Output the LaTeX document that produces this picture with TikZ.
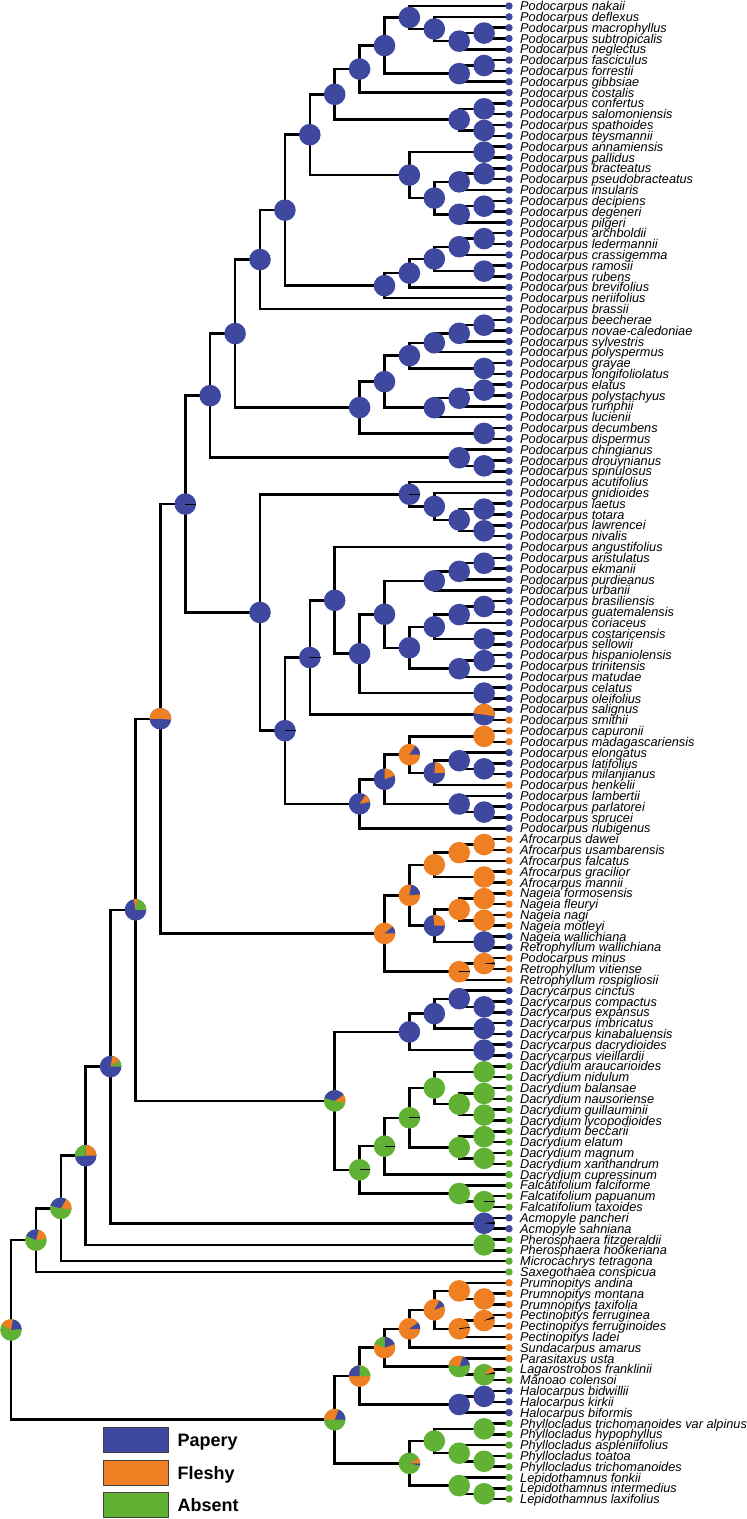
\documentclass[tikz,border=0pt]{standalone}
\usepackage{fontspec}
\setmainfont{Liberation Sans}
\usetikzlibrary{calc,positioning}
\pgfdeclarelayer{edges}
\pgfsetlayers{edges,main}

\definecolor{papery}{RGB}{62,72,158}
\definecolor{fleshy}{RGB}{238,127,34}
\definecolor{absent}{RGB}{97,178,52}

\newcommand{\pier}{10.8}
% internal node: name, height above the tips, two children, pie colour
\newcommand{\clade}[5]{%
  \coordinate (#1-mid) at ($(#3)!0.5!(#4)$);
  \coordinate (#1) at ({509-24.9*#2},0 |- #1-mid);
  \begin{pgfonlayer}{edges}
    \draw[branch] (#3) -| (#1) |- (#4);
  \end{pgfonlayer}
  \fill[#5] (#1) circle (\pier);
}
% part of a pie: node, start angle, end angle, colour
\newcommand{\slice}[4]{\fill[#4] (#1) -- +(#2:\pier) arc[start angle=#2, end angle=#3, radius=\pier] -- cycle;}
\newcommand{\tick}[2]{\draw[line width=0.8pt] (#1) -- +(#2:\pier);}

\begin{document}
\begin{tikzpicture}[
    x=1pt, y=1pt,
    branch/.style={line width=2.5pt, draw=black},
    tiplabel/.style={anchor=west, inner sep=0pt, text height=9.2pt, text depth=0pt,
                     font=\fontsize{12.75}{13}\selectfont\itshape},
    keybox/.style={draw=black!75, line width=0.9pt, minimum width=65pt, minimum height=25pt, inner sep=0pt},
    keytext/.style={inner sep=0pt, text height=13pt, text depth=0pt,
                    font=\fontsize{18}{20}\selectfont\bfseries}
]
    \useasboundingbox (0,0) rectangle (747,-1519);

    % Tips
    \foreach \i/\sp/\col in {
      1/Podocarpus nakaii/papery, 2/Podocarpus deflexus/papery, 3/Podocarpus macrophyllus/papery,
      4/Podocarpus subtropicalis/papery, 5/Podocarpus neglectus/papery, 6/Podocarpus fasciculus/papery,
      7/Podocarpus forrestii/papery, 8/Podocarpus gibbsiae/papery, 9/Podocarpus costalis/papery,
      10/Podocarpus confertus/papery, 11/Podocarpus salomoniensis/papery, 12/Podocarpus spathoides/papery,
      13/Podocarpus teysmannii/papery, 14/Podocarpus annamiensis/papery, 15/Podocarpus pallidus/papery,
      16/Podocarpus bracteatus/papery, 17/Podocarpus pseudobracteatus/papery, 18/Podocarpus insularis/papery,
      19/Podocarpus decipiens/papery, 20/Podocarpus degeneri/papery, 21/Podocarpus pilgeri/papery,
      22/Podocarpus archboldii/papery, 23/Podocarpus ledermannii/papery, 24/Podocarpus crassigemma/papery,
      25/Podocarpus ramosii/papery, 26/Podocarpus rubens/papery, 27/Podocarpus brevifolius/papery,
      28/Podocarpus neriifolius/papery, 29/Podocarpus brassii/papery, 30/Podocarpus beecherae/papery,
      31/Podocarpus novae-caledoniae/papery, 32/Podocarpus sylvestris/papery, 33/Podocarpus polyspermus/papery,
      34/Podocarpus grayae/papery, 35/Podocarpus longifoliolatus/papery, 36/Podocarpus elatus/papery,
      37/Podocarpus polystachyus/papery, 38/Podocarpus rumphii/papery, 39/Podocarpus lucienii/papery,
      40/Podocarpus decumbens/papery, 41/Podocarpus dispermus/papery, 42/Podocarpus chingianus/papery,
      43/Podocarpus drouynianus/papery, 44/Podocarpus spinulosus/papery, 45/Podocarpus acutifolius/papery,
      46/Podocarpus gnidioides/papery, 47/Podocarpus laetus/papery, 48/Podocarpus totara/papery,
      49/Podocarpus lawrencei/papery, 50/Podocarpus nivalis/papery, 51/Podocarpus angustifolius/papery,
      52/Podocarpus aristulatus/papery, 53/Podocarpus ekmanii/papery, 54/Podocarpus purdieanus/papery,
      55/Podocarpus urbanii/papery, 56/Podocarpus brasiliensis/papery, 57/Podocarpus guatemalensis/papery,
      58/Podocarpus coriaceus/papery, 59/Podocarpus costaricensis/papery, 60/Podocarpus sellowii/papery,
      61/Podocarpus hispaniolensis/papery, 62/Podocarpus trinitensis/papery, 63/Podocarpus matudae/papery,
      64/Podocarpus celatus/papery, 65/Podocarpus oleifolius/papery, 66/Podocarpus salignus/papery,
      67/Podocarpus smithii/fleshy, 68/Podocarpus capuronii/fleshy, 69/Podocarpus madagascariensis/fleshy,
      70/Podocarpus elongatus/papery, 71/Podocarpus latifolius/papery, 72/Podocarpus milanjianus/papery,
      73/Podocarpus henkelii/fleshy, 74/Podocarpus lambertii/papery, 75/Podocarpus parlatorei/papery,
      76/Podocarpus sprucei/papery, 77/Podocarpus nubigenus/papery, 78/Afrocarpus dawei/fleshy,
      79/Afrocarpus usambarensis/fleshy, 80/Afrocarpus falcatus/fleshy, 81/Afrocarpus gracilior/fleshy,
      82/Afrocarpus mannii/fleshy, 83/Nageia formosensis/fleshy, 84/Nageia fleuryi/fleshy,
      85/Nageia nagi/fleshy, 86/Nageia motleyi/fleshy, 87/Nageia wallichiana/papery,
      88/Retrophyllum wallichiana/papery, 89/Podocarpus minus/fleshy, 90/Retrophyllum vitiense/fleshy,
      91/Retrophyllum rospigliosii/fleshy, 92/Dacrycarpus cinctus/papery, 93/Dacrycarpus compactus/papery,
      94/Dacrycarpus expansus/papery, 95/Dacrycarpus imbricatus/papery, 96/Dacrycarpus kinabaluensis/papery,
      97/Dacrycarpus dacrydioides/papery, 98/Dacrycarpus vieillardii/papery, 99/Dacrydium araucarioides/absent,
      100/Dacrydium nidulum/absent, 101/Dacrydium balansae/absent, 102/Dacrydium nausoriense/absent,
      103/Dacrydium guillauminii/absent, 104/Dacrydium lycopodioides/absent, 105/Dacrydium beccarii/absent,
      106/Dacrydium elatum/absent, 107/Dacrydium magnum/absent, 108/Dacrydium xanthandrum/absent,
      109/Dacrydium cupressinum/absent, 110/Falcatifolium falciforme/absent, 111/Falcatifolium papuanum/absent,
      112/Falcatifolium taxoides/absent, 113/Acmopyle pancheri/papery, 114/Acmopyle sahniana/papery,
      115/Pherosphaera fitzgeraldii/absent, 116/Pherosphaera hookeriana/absent, 117/Microcachrys tetragona/absent,
      118/Saxegothaea conspicua/absent, 119/Prumnopitys andina/fleshy, 120/Prumnopitys montana/fleshy,
      121/Prumnopitys taxifolia/fleshy, 122/Pectinopitys ferruginea/fleshy, 123/Pectinopitys ferruginoides/fleshy,
      124/Pectinopitys ladei/fleshy, 125/Sundacarpus amarus/fleshy, 126/Parasitaxus usta/fleshy,
      127/Lagarostrobos franklinii/absent, 128/Mānoao colensoi/absent, 129/Halocarpus bidwillii/papery,
      130/Halocarpus kirkii/papery, 131/Halocarpus biformis/papery,
      132/Phyllocladus trichomanoides var alpinus/absent, 133/Phyllocladus hypophyllus/absent,
      134/Phyllocladus aspleniifolius/absent, 135/Phyllocladus toatoa/absent,
      136/Phyllocladus trichomanoides/absent, 137/Lepidothamnus fonkii/absent,
      138/Lepidothamnus intermedius/absent, 139/Lepidothamnus laxifolius/absent}{
      \coordinate (t\i) at (509,{-6-(\i-1)*10.82});
      \fill[\col] (t\i) circle (3.7);
      \node[tiplabel] (l\i) at (520,{-6-(\i-1)*10.82}) {\sp};
    }

    % Podocarpus, upper part
    \clade{a1}{1}{t3}{t4}{papery}
    \clade{a2}{2}{a1}{t5}{papery}
    \clade{a3}{3}{t2}{a2}{papery}
    \clade{a4}{4}{t1}{a3}{papery}
    \clade{a5}{1}{t6}{t7}{papery}
    \clade{a6}{2}{a5}{t8}{papery}
    \clade{a7}{5}{a4}{a6}{papery}
    \clade{a8}{6}{a7}{t9}{papery}
    \clade{a9}{1}{t10}{t11}{papery}
    \clade{a10}{1}{t12}{t13}{papery}
    \clade{a11}{2}{a9}{a10}{papery}
    \clade{a12}{7}{a8}{a11}{papery}
    \clade{a13}{1}{t14}{t15}{papery}
    \clade{a14}{1}{t16}{t17}{papery}
    \clade{a15}{2}{a14}{t18}{papery}
    \clade{a16}{1}{t19}{t20}{papery}
    \clade{a17}{2}{a16}{t21}{papery}
    \clade{a18}{3}{a15}{a17}{papery}
    \clade{a19}{4}{a13}{a18}{papery}
    \clade{a20}{8}{a12}{a19}{papery}
    \clade{a21}{1}{t22}{t23}{papery}
    \clade{a22}{2}{a21}{t24}{papery}
    \clade{a23}{1}{t25}{t26}{papery}
    \clade{a24}{3}{a22}{a23}{papery}
    \clade{a25}{4}{a24}{t27}{papery}
    \clade{a26}{5}{a25}{t28}{papery}
    \clade{a27}{9}{a20}{a26}{papery}
    \clade{a28}{10}{a27}{t29}{papery}

    \clade{b1}{1}{t30}{t31}{papery}
    \clade{b2}{2}{b1}{t32}{papery}
    \clade{b3}{3}{b2}{t33}{papery}
    \clade{b4}{1}{t34}{t35}{papery}
    \clade{b5}{4}{b3}{b4}{papery}
    \clade{b6}{1}{t36}{t37}{papery}
    \clade{b7}{2}{b6}{t38}{papery}
    \clade{b8}{3}{b7}{t39}{papery}
    \clade{b9}{5}{b5}{b8}{papery}
    \clade{b10}{1}{t40}{t41}{papery}
    \clade{b11}{6}{b9}{b10}{papery}
    \clade{b12}{1}{t43}{t44}{papery}
    \clade{b13}{2}{t42}{b12}{papery}
    \clade{b14}{11}{a28}{b11}{papery}
    \clade{b15}{12}{b14}{b13}{papery}

    % Podocarpus, lower part
    \clade{c1}{1}{t47}{t48}{papery}
    \clade{c2}{1}{t49}{t50}{papery}
    \clade{c3}{2}{c1}{c2}{papery}
    \clade{c4}{3}{t46}{c3}{papery}
    \clade{c5}{4}{t45}{c4}{papery} \tick{c5}{0}
    \clade{c6}{1}{t52}{t53}{papery}
    \clade{c7}{2}{c6}{t54}{papery}
    \clade{c8}{3}{c7}{t55}{papery}
    \clade{c9}{1}{t56}{t57}{papery}
    \clade{c10}{2}{c9}{t58}{papery}
    \clade{c11}{1}{t59}{t60}{papery}
    \clade{c12}{3}{c10}{c11}{papery}
    \clade{c13}{1}{t61}{t62}{papery}
    \clade{c14}{2}{c13}{t63}{papery}
    \clade{c15}{4}{c12}{c14}{papery}
    \clade{c16}{5}{c8}{c15}{papery}
    \clade{c17}{1}{t64}{t65}{papery}
    \clade{c18}{6}{c16}{c17}{papery}
    \clade{c19}{7}{t51}{c18}{papery}
    \clade{c20}{1}{t66}{t67}{papery} \slice{c20}{-8}{172}{fleshy}
    \clade{c21}{8}{c19}{c20}{papery} \tick{c21}{0}
    \clade{c22}{1}{t68}{t69}{fleshy}
    \clade{c23}{1}{t71}{t72}{papery}
    \clade{c24}{2}{t70}{c23}{papery}
    \clade{c25}{3}{c24}{t73}{papery} \slice{c25}{0}{85}{fleshy}
    \clade{c26}{4}{c22}{c25}{fleshy} \slice{c26}{0}{55}{papery}
    \clade{c27}{1}{t75}{t76}{papery}
    \clade{c28}{2}{t74}{c27}{papery}
    \clade{c29}{5}{c26}{c28}{papery} \slice{c29}{20}{90}{fleshy}
    \clade{c30}{6}{c29}{t77}{papery} \slice{c30}{10}{55}{fleshy}
    \clade{c31}{9}{c21}{c30}{papery} \tick{c31}{0}
    \clade{c32}{10}{c5}{c31}{papery}
    \clade{c33}{13}{b15}{c32}{papery} \tick{c33}{0}

    % Afrocarpus, Nageia, Retrophyllum
    \clade{d1}{1}{t78}{t79}{fleshy}
    \clade{d2}{2}{d1}{t80}{fleshy}
    \clade{d3}{1}{t81}{t82}{fleshy}
    \clade{d4}{3}{d2}{d3}{fleshy}
    \clade{d5}{1}{t83}{t84}{fleshy}
    \clade{d6}{1}{t85}{t86}{fleshy}
    \clade{d7}{2}{d5}{d6}{fleshy}
    \clade{d8}{1}{t87}{t88}{papery}
    \clade{d9}{3}{d7}{d8}{papery} \slice{d9}{0}{95}{fleshy}
    \clade{d10}{4}{d4}{d9}{fleshy} \slice{d10}{5}{80}{papery}
    \clade{d11}{1}{t89}{t90}{fleshy} \slice{d11}{-4}{6}{black}
    \clade{d12}{2}{d11}{t91}{fleshy} \tick{d12}{0}
    \clade{d13}{5}{d10}{d12}{fleshy} \slice{d13}{0}{40}{papery}
    \clade{d14}{14}{c33}{d13}{papery} \slice{d14}{-5}{180}{fleshy}

    % Dacrycarpus, Dacrydium, Falcatifolium and the deep nodes
    \clade{e1}{1}{t93}{t94}{papery}
    \clade{e2}{2}{t92}{e1}{papery}
    \clade{e3}{1}{t95}{t96}{papery}
    \clade{e4}{3}{e2}{e3}{papery}
    \clade{e5}{1}{t97}{t98}{papery}
    \clade{e6}{4}{e4}{e5}{papery}
    \clade{e7}{1}{t99}{t100}{absent}
    \clade{e8}{1}{t101}{t102}{absent}
    \clade{e9}{1}{t103}{t104}{absent}
    \clade{e10}{2}{e8}{e9}{absent}
    \clade{e11}{3}{e7}{e10}{absent}
    \clade{e12}{1}{t105}{t106}{absent}
    \clade{e13}{1}{t107}{t108}{absent}
    \clade{e14}{2}{e12}{e13}{absent}
    \clade{e15}{4}{e11}{e14}{absent} \tick{e15}{0}
    \clade{e16}{5}{e15}{t109}{absent} \tick{e16}{0}
    \clade{e17}{1}{t111}{t112}{absent} \tick{e17}{0}
    \clade{e18}{2}{t110}{e17}{absent}
    \clade{e19}{6}{e16}{e18}{absent} \tick{e19}{0}
    \clade{e20}{7}{e6}{e19}{absent} \slice{e20}{-10}{35}{fleshy} \slice{e20}{35}{165}{papery}
    \clade{e21}{15}{d14}{e20}{papery} \slice{e21}{0}{80}{absent} \slice{e21}{80}{100}{fleshy}
    \clade{e22}{1}{t113}{t114}{papery} \slice{e22}{-5}{8}{black}
    \clade{e23}{16}{e21}{e22}{papery} \slice{e23}{0}{35}{absent} \slice{e23}{35}{80}{fleshy}
    \clade{e24}{1}{t115}{t116}{absent}
    \clade{e25}{17}{e23}{e24}{papery} \slice{e25}{0}{90}{fleshy} \slice{e25}{90}{185}{absent}
    \clade{e26}{18}{e25}{t117}{absent} \slice{e26}{-5}{60}{fleshy} \slice{e26}{60}{165}{papery}
    \clade{e27}{19}{e26}{t118}{absent} \slice{e27}{10}{75}{fleshy} \slice{e27}{75}{155}{papery}

    % Prumnopitys to Lepidothamnus
    \clade{f1}{1}{t120}{t121}{fleshy}
    \clade{f2}{2}{t119}{f1}{fleshy}
    \clade{f3}{1}{t122}{t123}{fleshy} \slice{f3}{12}{24}{black}
    \clade{f4}{2}{f3}{t124}{fleshy} \tick{f4}{8}
    \clade{f5}{3}{f2}{f4}{fleshy} \slice{f5}{20}{60}{papery}
    \clade{f6}{4}{f5}{t125}{fleshy} \slice{f6}{0}{35}{papery}
    \clade{f7}{1}{t127}{t128}{absent} \slice{f7}{5}{15}{black} \slice{f7}{15}{50}{fleshy}
    \clade{f8}{2}{t126}{f7}{absent} \slice{f8}{10}{70}{papery} \slice{f8}{70}{170}{fleshy}
    \clade{f9}{5}{f6}{f8}{fleshy} \slice{f9}{20}{90}{papery} \slice{f9}{90}{160}{absent}
    \clade{f10}{1}{t129}{t130}{papery}
    \clade{f11}{2}{f10}{t131}{papery}
    \clade{f12}{6}{f9}{f11}{fleshy} \slice{f12}{0}{90}{absent} \slice{f12}{90}{180}{papery}
    \clade{f13}{1}{t132}{t133}{absent}
    \clade{f14}{1}{t135}{t136}{absent}
    \clade{f15}{2}{t134}{f14}{absent}
    \clade{f16}{3}{f13}{f15}{absent}
    \clade{f17}{1}{t138}{t139}{absent}
    \clade{f18}{2}{t137}{f17}{absent}
    \clade{f19}{4}{f16}{f18}{absent} \slice{f19}{-12}{0}{papery} \slice{f19}{0}{30}{fleshy}
    \clade{f20}{7}{f12}{f19}{absent} \slice{f20}{0}{70}{papery} \slice{f20}{70}{180}{fleshy}

    % Root
    \clade{root}{20}{e27}{f20}{absent} \slice{root}{5}{80}{papery} \slice{root}{80}{150}{fleshy}

    % Key
    \node[keybox, fill=papery] (keyB) at (135.5,-1440) {};
    \node[keybox, fill=fleshy] (keyO) at (135.5,-1472.5) {};
    \node[keybox, fill=absent] (keyG) at (135.5,-1505) {};
    \node[keytext, right=9pt of keyB] (keyBt) {Papery};
    \node[keytext, right=9pt of keyO] (keyOt) {Fleshy};
    \node[keytext, right=9pt of keyG] (keyGt) {Absent};
\end{tikzpicture}
\end{document}
